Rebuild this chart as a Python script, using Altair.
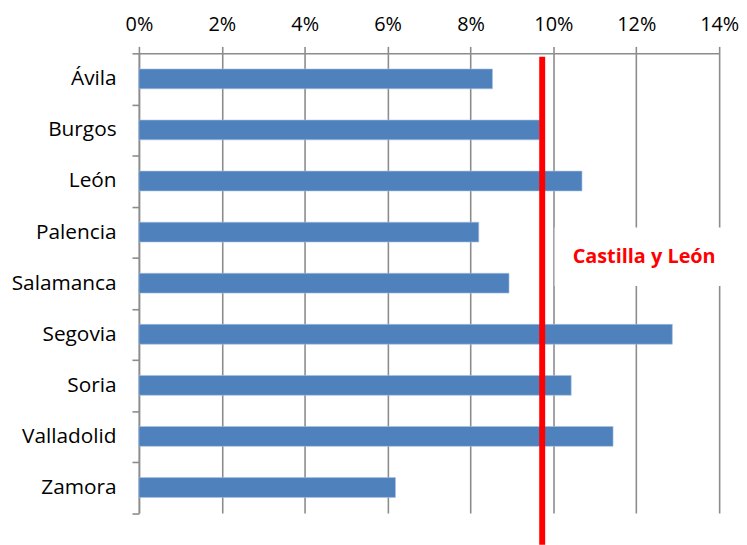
import altair as alt
import pandas as pd

provinces = ["Ávila", "Burgos", "León", "Palencia", "Salamanca",
             "Segovia", "Soria", "Valladolid", "Zamora"]
values = [0.0853, 0.0967, 0.1069, 0.0820, 0.0893, 0.1287, 0.1043, 0.1144, 0.0619]
region_value = 0.0973
region_label = "Castilla y León"
x_ticks = [0, 0.02, 0.04, 0.06, 0.08, 0.10, 0.12, 0.14]

W = 585
H = 463.5
BOTTOM = 30
GRID = "#8C8C8C"

df = pd.DataFrame({"prov": provinces, "val": values})

xscale = alt.Scale(domain=[0, 0.14], nice=False, zero=True)
yscale = alt.Scale(domain=provinces, paddingInner=0, paddingOuter=0)

bars = alt.Chart(df).mark_bar(size=20, color="#4F81BD", stroke="#A9C1E0", strokeWidth=0.6).encode(
    x=alt.X("val:Q", scale=xscale,
            axis=alt.Axis(orient="top", format=".0%", values=x_ticks, title=None,
                          grid=True, gridColor=GRID, gridWidth=1.6,
                          tickColor=GRID, tickWidth=1.6, tickSize=7,
                          domainColor=GRID, domainWidth=1.6,
                          labelFlush=False, labelOverlap=False,
                          labelFont="Open Sans", labelFontSize=20, labelColor="#000000",
                          labelPadding=12)),
    y=alt.Y("prov:N", scale=yscale, sort=provinces,
            axis=alt.Axis(title=None, grid=False, tickBand="extent",
                          tickColor=GRID, tickWidth=1.6, tickSize=7,
                          domainColor=GRID, domainWidth=1.6,
                          labelFont="Open Sans", labelFontSize=21, labelColor="#000000",
                          labelPadding=16)),
)

box_df = pd.DataFrame({"x0": [0.1003], "x1": [0.1425]})
box = alt.Chart(box_df).mark_rect(color="white").encode(
    x=alt.X("x0:Q", scale=xscale),
    x2="x1:Q",
    y=alt.value(175.5),
    y2=alt.value(234.5),
)

rule_df = pd.DataFrame({"v": [region_value]})
rule = alt.Chart(rule_df).mark_rule(color="#FF0000", strokeWidth=6).encode(
    x=alt.X("v:Q", scale=xscale),
    y=alt.value(3.5),
    y2=alt.value(H + BOTTOM + 2),
)

text_df = pd.DataFrame({"t": [region_label], "x": [0.1219], "prov": ["Palencia"]})
text = alt.Chart(text_df).mark_text(
    font="Open Sans", fontSize=20, fontWeight="bold", color="#FF0000",
    align="center", baseline="middle", dy=-1,
).encode(
    x=alt.X("x:Q", scale=xscale),
    y=alt.Y("prov:N", scale=yscale, sort=provinces, bandPosition=1),
    text="t:N",
)

chart = alt.layer(bars, box, rule, text).properties(
    width=W, height=H,
    autosize=alt.AutoSizeParams(type="none"),
    padding={"left": 132, "top": 43.5, "right": 20, "bottom": BOTTOM},
).configure_view(stroke=None)

chart.save("out.html", embed_options={"renderer": "svg", "actions": False})
